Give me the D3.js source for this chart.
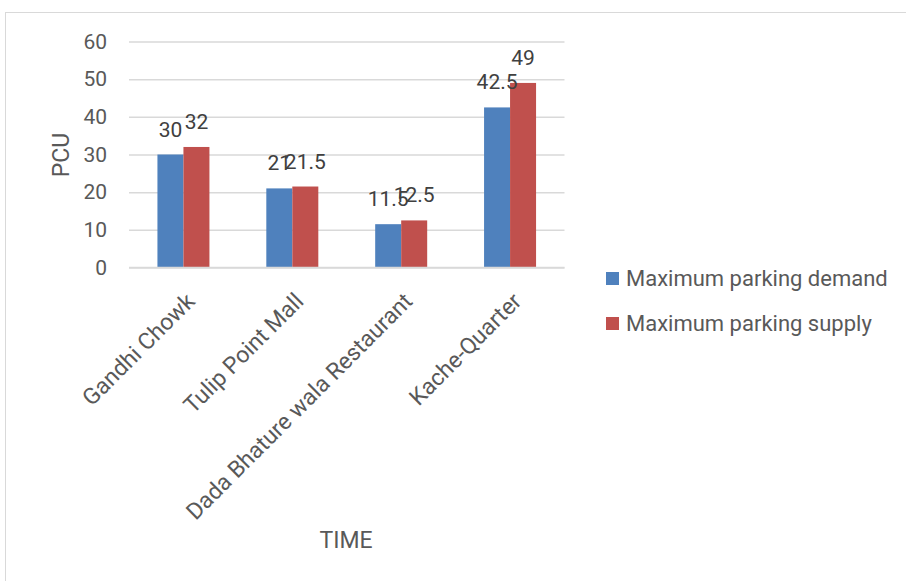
<!DOCTYPE html>
<html>
<head>
<meta charset="utf-8">
<script src="https://cdn.jsdelivr.net/npm/d3@7"></script>
<style>
  html, body { margin: 0; padding: 0; background: #fff; }
  svg { display: block; font-family: Roboto, "Open Sans", sans-serif; }
</style>
</head>
<body>
<svg id="chart" width="906" height="581"></svg>
<script>
// Parking demand vs supply (PCU) at four locations
const categories = ["Gandhi Chowk", "Tulip Point Mall", "Dada Bhature wala Restaurant", "Kache-Quarter"];
const seriesNames = ["Maximum parking demand", "Maximum parking supply"];
const demand = [30, 21, 11.5, 42.5];
const supply = [32, 21.5, 12.5, 49];
const demandLabels = ["30", "21", "11.5", "42.5"];
const supplyLabels = ["32", "21.5", "12.5", "49"];
const yTicks = [0, 10, 20, 30, 40, 50, 60];

const colors = ["#4f81bd", "#c0504d"];
const textColor = "#595959";
const gridColor = "#d9d9d9";

const svg = d3.select("#chart");

// Outer chart frame
svg.append("rect")
  .attr("x", 5.5).attr("y", 12.5)
  .attr("width", 1000).attr("height", 1000)
  .attr("fill", "none").attr("stroke", gridColor).attr("stroke-width", 1);

const plot = { left: 129, right: 564.5, top: 41.5, bottom: 267.5 };

const y = d3.scaleLinear().domain([0, 60]).range([plot.bottom, plot.top]);
const step = (plot.right - plot.left) / categories.length;
const inner = 1 - 52 / step;
const x0 = d3.scaleBand().domain(categories)
  .range([plot.left, plot.right])
  .paddingInner(inner).paddingOuter(inner / 2);
const x1 = d3.scaleBand().domain(seriesNames).range([0, x0.bandwidth()]).padding(0);

// Gridlines
const yAxis = d3.axisLeft(y).tickValues(yTicks)
  .tickSize(-(plot.right - plot.left)).tickPadding(22).tickFormat(d3.format("d"));
const gy = svg.append("g").attr("transform", `translate(${plot.left},0)`).call(yAxis);
gy.select(".domain").remove();
gy.selectAll(".tick line").attr("stroke", gridColor).attr("stroke-width", 1.5);
gy.selectAll(".tick text")
  .attr("fill", textColor).attr("font-size", 21)
  .attr("font-family", "Roboto, sans-serif");

// Bars
const rows = categories.map((c, i) => ({
  cat: c,
  vals: [
    { s: seriesNames[0], v: demand[i], label: demandLabels[i] },
    { s: seriesNames[1], v: supply[i], label: supplyLabels[i] }
  ]
}));

const groups = svg.append("g").selectAll("g").data(rows).join("g")
  .attr("transform", d => `translate(${x0(d.cat)},0)`);

groups.selectAll("rect").data(d => d.vals).join("rect")
  .attr("x", d => x1(d.s))
  .attr("y", d => y(d.v))
  .attr("width", x1.bandwidth())
  .attr("height", d => y(0) - y(d.v))
  .attr("fill", (d, i) => colors[i]);

// Category axis line at zero
svg.append("line")
  .attr("x1", plot.left).attr("x2", plot.right)
  .attr("y1", y(0)).attr("y2", y(0))
  .attr("stroke", gridColor).attr("stroke-width", 1.5);

// Value labels
groups.selectAll("text.val").data(d => d.vals).join("text")
  .attr("class", "val")
  .attr("x", d => x1(d.s) + x1.bandwidth() / 2)
  .attr("y", d => y(d.v) - 18)
  .attr("text-anchor", "middle")
  .attr("font-size", 21)
  .attr("fill", "#404040")
  .text(d => d.label);

// Rotated category labels
svg.append("g").selectAll("text").data(categories).join("text")
  .attr("transform", d => `translate(${x0(d) + x0.bandwidth() / 2 + 1},291) rotate(-45)`)
  .attr("text-anchor", "end")
  .attr("dy", "0.72em")
  .attr("font-size", 23)
  .attr("fill", textColor)
  .text(d => d);

// Axis titles
svg.append("text")
  .attr("transform", "translate(69,155) rotate(-90)")
  .attr("text-anchor", "middle")
  .attr("font-size", 23)
  .attr("fill", textColor)
  .text("PCU");

svg.append("text")
  .attr("x", 346).attr("y", 547.5)
  .attr("text-anchor", "middle")
  .attr("font-size", 23)
  .attr("fill", textColor)
  .text("TIME");

// Legend
const legend = svg.append("g").selectAll("g").data(seriesNames).join("g")
  .attr("transform", (d, i) => `translate(606,${272 + i * 45})`);
legend.append("rect")
  .attr("width", 13).attr("height", 13)
  .attr("fill", (d, i) => colors[i]);
legend.append("text")
  .attr("x", 20).attr("y", 13.5)
  .attr("font-size", 22)
  .attr("fill", textColor)
  .text(d => d);
</script>
</body>
</html>
